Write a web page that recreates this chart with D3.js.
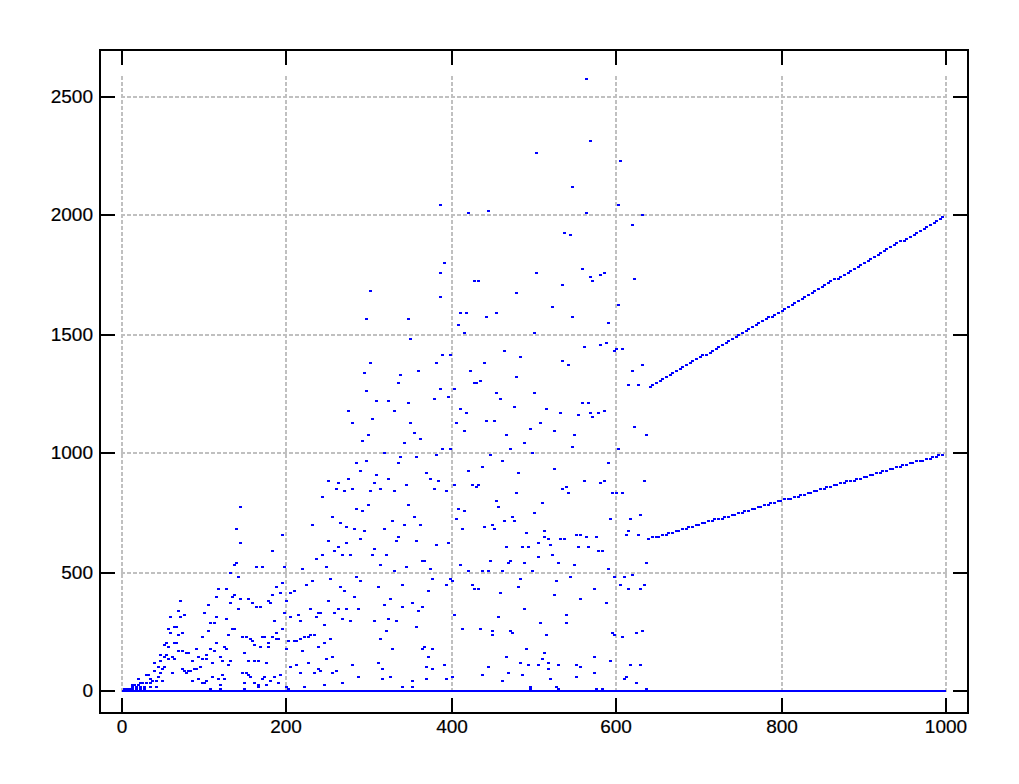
<!DOCTYPE html>
<html><head><meta charset="utf-8">
<script src="https://cdn.jsdelivr.net/npm/d3@7"></script>
<style>html,body{margin:0;padding:0;background:#fff;overflow:hidden}svg{display:block}text{font-family:"Liberation Sans",Arial,sans-serif;font-size:19px;fill:#000;stroke:#000;stroke-width:0.2px}</style>
</head><body><div id="c"></div>
<script>
const xTicks=[0,200,400,600,800,1000];
const yTicks=[0,500,1000,1500,2000,2500];
const baselineX=[0,1000];
const baselineY=[0,0];
const scatterLow=[[144,774],[139,682],[195,657],[144,623],[182,589],[139,539],[136,530],[163,522],[170,522],[197,522],[131,497],[141,480],[195,455],[187,438],[117,429],[127,429],[192,412],[182,404],[136,404],[114,396],[134,396],[144,387],[153,387],[71,379],[178,379],[199,379],[131,370],[158,370],[180,370],[105,362],[163,354],[168,354],[141,345],[68,337],[100,328],[197,328],[76,320],[59,311],[71,311],[114,311],[127,303],[185,295],[107,286],[112,286],[64,269],[66,269],[134,261],[136,261],[56,261],[195,261],[105,253],[59,244],[73,244],[187,244],[68,236],[129,236],[97,227],[146,227],[151,227],[170,227],[173,227],[182,227],[156,219],[187,219],[190,219],[158,210],[202,210],[54,202],[64,202],[66,202],[114,202],[178,202],[51,194],[161,194],[56,185],[124,185],[168,185],[178,185],[90,177],[107,177],[127,177],[199,177],[68,168],[73,168],[112,168],[78,160],[80,160],[148,160],[47,152],[54,152],[102,152],[51,143],[61,143],[93,143],[119,143],[47,126],[56,135],[64,135],[97,135],[102,135],[85,126],[122,126],[131,126],[153,126],[161,126],[165,126],[39,118],[110,118],[175,118],[129,109],[44,101],[51,101],[95,101],[49,93],[88,93],[90,93],[73,93],[39,84],[76,84],[80,84],[83,84],[78,76],[47,76],[61,76],[146,76],[151,76],[30,67],[32,67],[153,67],[44,59],[110,59],[122,67],[156,59],[173,59],[185,59],[192,67],[20,51],[34,51],[93,51],[117,51],[124,51],[170,51],[37,42],[42,42],[49,42],[85,42],[102,42],[180,42],[22,34],[25,34],[30,34],[34,34],[97,34],[100,34],[148,34],[161,34],[190,34],[119,25],[165,25],[175,25],[34,17],[42,17],[165,17],[199,17],[107,8],[119,8],[148,8],[202,8],[12,25],[15,25],[20,25],[12,17],[17,17],[22,17],[27,17],[12,8],[17,8],[22,8],[27,8],[2,8],[5,8],[7,8],[10,8]];
const scatterMid=[[251,884],[263,875],[306,875],[345,867],[384,884],[403,867],[425,867],[433,867],[430,859],[260,850],[280,850],[314,850],[379,850],[270,842],[301,842],[331,842],[394,842],[243,817],[299,783],[348,783],[284,766],[408,766],[292,758],[416,758],[255,732],[355,732],[406,724],[328,716],[265,707],[231,699],[343,699],[362,699],[272,690],[440,690],[282,682],[318,682],[413,682],[294,673],[335,648],[289,640],[251,631],[333,631],[357,631],[272,623],[396,623],[382,614],[263,606],[306,598],[258,589],[243,572],[268,572],[277,572],[304,572],[321,572],[236,556],[365,547],[367,547],[447,547],[314,530],[411,530],[248,522],[345,522],[219,513],[374,513],[331,505],[420,505],[437,505],[445,505],[284,480],[253,471],[377,471],[399,471],[231,463],[289,463],[401,463],[224,446],[340,446],[394,446],[425,446],[265,438],[311,438],[428,429],[433,429],[209,421],[270,421],[372,421],[204,412],[282,396],[326,387],[251,379],[352,370],[318,362],[229,345],[263,345],[272,345],[287,345],[340,354],[365,354],[360,337],[238,328],[241,328],[258,328],[214,320],[403,320],[204,311],[236,311],[268,303],[323,303],[217,295],[277,295],[306,295],[333,295],[246,278],[357,269],[413,261],[435,261],[321,253],[229,236],[234,236],[221,227],[226,227],[217,219],[253,219],[314,219],[209,210],[212,210],[246,202],[238,185],[367,185],[219,168],[328,177],[365,177],[377,177],[255,143],[372,143],[248,135],[226,118],[311,118],[212,109],[280,109],[391,109],[204,101],[369,101],[445,101],[238,93],[316,93],[377,93],[241,84],[260,84],[217,76],[234,76],[255,76],[437,67],[287,59],[326,59],[401,59],[316,51],[369,51],[394,51],[268,34],[352,42],[246,25],[221,17],[340,17],[352,17]];
const scatterRight=[[561,884],[585,884],[634,884],[581,875],[539,859],[534,850],[600,833],[479,833],[542,833],[595,833],[607,833],[454,800],[510,791],[457,774],[500,749],[629,741],[474,732],[593,724],[617,724],[464,716],[476,716],[449,699],[452,682],[513,673],[614,673],[491,665],[551,657],[556,657],[612,657],[627,657],[513,648],[564,648],[576,648],[517,640],[532,640],[537,640],[505,623],[520,614],[466,606],[486,606],[493,606],[554,606],[566,606],[578,589],[583,589],[522,572],[488,539],[505,564],[471,547],[469,539],[530,539],[636,539],[549,530],[462,505],[498,505],[590,513],[619,488],[544,480],[598,480],[610,480],[483,471],[527,463],[605,446],[634,446],[481,438],[573,429],[614,429],[629,429],[459,412],[525,404],[556,387],[588,370],[488,345],[457,311],[539,320],[508,286],[539,286],[449,253],[471,253],[631,253],[474,244],[595,244],[624,244],[449,236],[515,236],[598,236],[607,227],[491,177],[513,160],[466,143],[573,143],[510,135],[593,126],[483,118],[517,118],[493,109],[505,109],[530,109],[551,109],[617,109],[629,109],[556,101],[517,93],[469,76],[573,76],[486,67],[551,59],[612,59],[520,51],[610,51],[462,42],[624,34],[496,17],[527,17],[496,8],[530,8],[576,8],[583,8],[636,8]];
const scatterMidUpper=[[391,1801],[386,1759],[428,1726],[432,1726],[301,1684],[386,1658],[411,1591],[418,1591],[296,1566],[347,1566],[408,1540],[415,1507],[350,1482],[389,1414],[398,1414],[301,1381],[381,1381],[360,1347],[423,1347],[294,1338],[338,1330],[335,1296],[428,1296],[430,1296],[434,1305],[296,1263],[386,1271],[403,1271],[379,1229],[396,1237],[309,1221],[323,1221],[347,1212],[275,1179],[330,1179],[411,1187],[418,1170],[304,1145],[280,1128],[350,1128],[406,1128],[355,1086],[415,1094],[299,1077],[362,1061],[292,1052],[343,1044],[389,1019],[398,1019],[318,1002],[381,993],[338,985],[357,985],[296,968],[284,960],[335,960],[289,926],[420,926],[309,909],[369,918],[275,892],[323,892],[374,892]];
const scatterRightUpper=[[559,1776],[503,1759],[585,1759],[580,1751],[568,1743],[622,1734],[571,1726],[534,1709],[479,1675],[602,1625],[522,1616],[454,1591],[442,1574],[547,1574],[590,1549],[500,1507],[588,1465],[580,1456],[561,1448],[600,1439],[607,1439],[464,1431],[597,1431],[483,1406],[534,1389],[440,1381],[542,1372],[631,1372],[619,1347],[479,1322],[614,1288],[627,1288],[454,1254],[500,1254],[459,1229],[476,1195],[559,1212],[566,1212],[515,1187],[585,1179],[532,1170],[568,1170],[578,1170],[554,1162],[571,1153],[442,1136],[452,1136],[508,1128],[622,1111],[496,1103],[525,1094],[466,1077],[549,1077],[636,1077],[488,1044],[547,1027],[471,1019],[602,1019],[447,993],[498,1002],[462,968],[590,960],[437,942],[525,934],[481,918]];
const scatterTop=[[564,2576],[568,2315],[503,2264],[605,2231],[547,2121],[386,2046],[602,2046],[420,2012],[445,2020],[564,2012],[631,2003],[619,1961],[537,1928],[544,1919]];
const upperX=[641,645,649,653,657,661,665,669,673,677,681,685,689,693,697,701,705,709,713,717,721,725,729,733,737,741,745,749,753,757,761,765,769,773,777,781,785,789,793,797,801,805,809,813,817,821,825,829,833,837,841,845,849,853,857,861,865,869,873,877,881,885,889,893,897,901,905,909,913,917,921,925,929,933,937,941,945,949,953,957,961,965,969,973,977,981,985,989,993,996];
const upperY=[1282,1290,1298,1306,1314,1322,1330,1338,1346,1354,1362,1370,1378,1386,1394,1402,1410,1418,1426,1434,1442,1450,1458,1466,1474,1482,1490,1498,1506,1514,1522,1530,1538,1546,1554,1562,1570,1578,1586,1594,1602,1610,1618,1626,1634,1642,1650,1658,1666,1674,1682,1690,1698,1706,1714,1722,1730,1738,1746,1754,1762,1770,1778,1786,1794,1802,1810,1818,1826,1834,1842,1850,1858,1866,1874,1882,1890,1898,1906,1914,1922,1930,1938,1946,1954,1962,1970,1978,1986,1992];
const lowerX=[640,644,648,652,656,660,664,668,672,676,680,684,688,692,696,700,704,708,712,716,720,724,728,732,736,740,744,748,752,756,760,764,768,772,776,780,784,788,792,796,800,804,808,812,816,820,824,828,832,836,840,844,848,852,856,860,864,868,872,876,880,884,888,892,896,900,904,908,912,916,920,924,928,932,936,940,944,948,952,956,960,964,968,972,976,980,984,988,992,996];
const lowerY=[640,644,648,652,656,660,664,668,672,676,680,684,688,692,696,700,704,708,712,716,720,724,728,732,736,740,744,748,752,756,760,764,768,772,776,780,784,788,792,796,800,804,808,812,816,820,824,828,832,836,840,844,848,852,856,860,864,868,872,876,880,884,888,892,896,900,904,908,912,916,920,924,928,932,936,940,944,948,952,956,960,964,968,972,976,980,984,988,992,996];

const W=1019,H=784,BLUE="#0000ff",GRID="#c0c0c0";
const x=d3.scaleLinear().domain([0,1000]).range([122,946]);
const y=d3.scaleLinear().domain([0,2500]).range([691,97]);
const gridTop=76;
const snapX=v=>2*Math.round(v/2);
const snapY=v=>2*Math.round((v-1)/2)+1;
const svg=d3.select("#c").append("svg").attr("width",W).attr("height",H);

// grid
svg.append("g").selectAll("line").data(xTicks).join("line")
 .attr("x1",d=>snapX(x(d))).attr("x2",d=>snapX(x(d))).attr("y1",gridTop).attr("y2",y(0))
 .attr("stroke",GRID).attr("stroke-width",2).attr("stroke-dasharray","4,2");
svg.append("g").selectAll("line").data(yTicks).join("line")
 .attr("y1",d=>snapY(y(d))).attr("y2",d=>snapY(y(d))).attr("x1",x(0)-1).attr("x2",x(1000)+1)
 .attr("stroke",GRID).attr("stroke-width",2).attr("stroke-dasharray","4,2");

// marks
const pts=[...scatterLow,...scatterMid,...scatterRight,...scatterMidUpper,...scatterRightUpper,...scatterTop,
 ...upperX.map((v,i)=>[v,upperY[i]]),...lowerX.map((v,i)=>[v,lowerY[i]])];
svg.append("g").selectAll("rect").data(pts).join("rect")
 .attr("x",d=>2*Math.round((x(d[0])-2.5)/2)+1).attr("y",d=>snapY(y(d[1]))-1)
 .attr("width",3).attr("height",2).attr("fill",BLUE);
svg.append("path").attr("d",d3.line().x(d=>d[0]).y(d=>d[1])(baselineX.map((v,i)=>[x(v),snapY(y(baselineY[i]))])))
 .attr("stroke",BLUE).attr("stroke-width",2).attr("fill","none");

// axes
function style(g,isX){
 g.select(".domain").remove();
 g.selectAll(".tick").attr("transform",d=>isX?`translate(${snapX(x(d))},0)`:`translate(0,${snapY(y(d))})`);
 g.selectAll("line").attr("stroke","#000").attr("stroke-width",2);
 g.selectAll("text").attr("fill","#000");
}
const L=100,R=968,T=50,B=713,TL=15;
function clean(g){g.attr("font-family",null).attr("font-size",null);}
svg.append("g").attr("transform",`translate(${L},0)`).call(d3.axisLeft(y).tickValues(yTicks).tickFormat(d3.format("d")).tickSize(-TL).tickPadding(7).offset(0)).call(g=>style(g,false)).call(clean);
svg.append("g").attr("transform",`translate(0,${B})`).call(d3.axisBottom(x).tickValues(xTicks).tickFormat(d3.format("d")).tickSize(-TL).tickPadding(6.5).offset(0)).call(g=>style(g,true)).call(clean);
svg.append("g").attr("transform",`translate(${R},0)`).call(d3.axisRight(y).tickValues(yTicks).tickFormat("").tickSize(-TL).offset(0)).call(g=>style(g,false));
svg.append("g").attr("transform",`translate(0,${T})`).call(d3.axisTop(x).tickValues(xTicks).tickFormat("").tickSize(-TL).offset(0)).call(g=>style(g,true));
svg.append("rect").attr("x",L).attr("y",T).attr("width",R-L).attr("height",B-T).attr("fill","none").attr("stroke","#000").attr("stroke-width",2);
</script></body></html>
